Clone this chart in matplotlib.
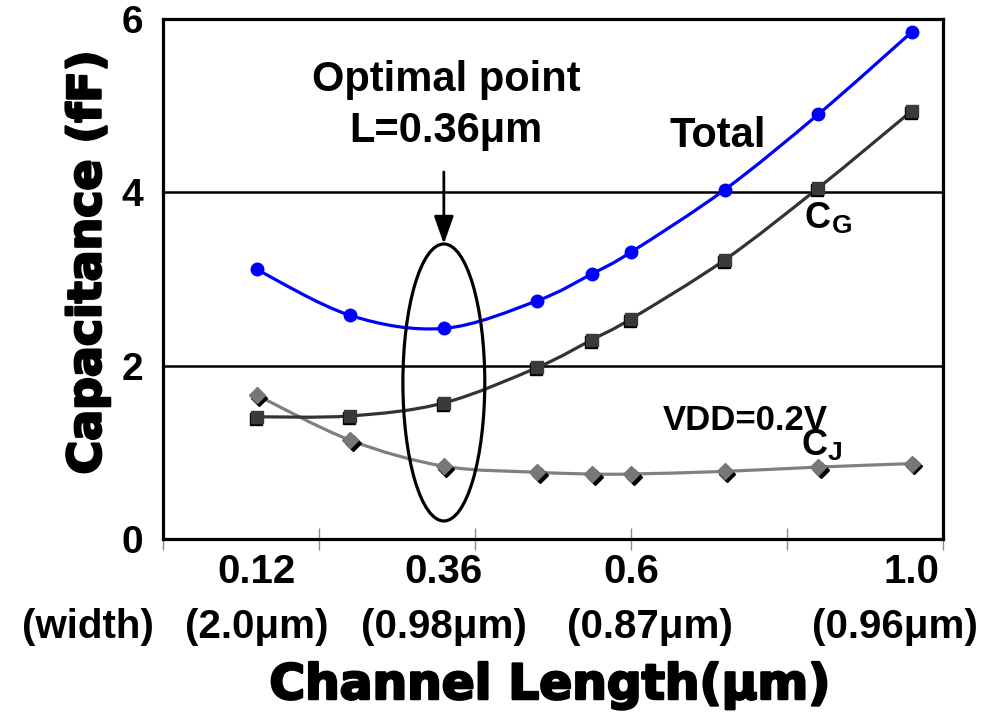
import numpy as np
import matplotlib
matplotlib.use('Agg')
import matplotlib.pyplot as plt
from matplotlib.path import Path
from matplotlib.patches import PathPatch, Ellipse
from matplotlib import patheffects, transforms

plt.rcParams['font.family'] = ['Liberation Sans', 'DejaVu Sans']
plt.rcParams['font.weight'] = 'bold'

# channel length (um) and capacitances (fF)
length = [0.12, 0.24, 0.36, 0.48, 0.55, 0.60, 0.72, 0.84, 0.96]
c_total = [3.11, 2.58, 2.43, 2.75, 3.06, 3.31, 4.03, 4.90, 5.85]
c_gate = [1.41, 1.42, 1.57, 1.98, 2.30, 2.54, 3.22, 4.05, 4.94]
c_junc = [1.66, 1.14, 0.84, 0.77, 0.75, 0.75, 0.78, 0.83, 0.87]

tick_pos = [0.12, 0.36, 0.60, 0.96]
tick_text = ['0.12', '0.36', '0.6', '1.0']
width_pos = [-0.096, 0.12, 0.36, 0.624, 0.938]
width_text = ['(width)', '(2.0μm)', '(0.98μm)', '(0.87μm)', '(0.96μm)']

opt_L = 0.36


def smooth_path(x, y):
    # catmull-rom through the points, written as cubic beziers
    p = np.column_stack([x, y]).astype(float)
    n = len(p)
    verts = [p[0]]
    codes = [Path.MOVETO]
    for i in range(n - 1):
        p0 = p[max(i - 1, 0)]
        p1, p2 = p[i], p[i + 1]
        p3 = p[min(i + 2, n - 1)]
        verts += [p1 + (p2 - p0) / 6, p2 - (p3 - p1) / 6, p2]
        codes += [Path.CURVE4] * 3
    return Path(verts, codes)


fig = plt.figure(figsize=(9.99, 7.16), dpi=100)
ax = fig.add_axes([0.1632, 0.2472, 0.7808, 0.7263])

ax.set_xlim(0, 1.0)
ax.set_ylim(0, 6)

for s in ax.spines.values():
    s.set_linewidth(2.3)
    s.set_color('k')

ax.set_yticks([0, 2, 4, 6])
ax.tick_params(axis='y', length=0, labelsize=28, pad=14)
ax.set_xticks(np.arange(0, 1.01, 0.2))
ax.set_xticklabels([])
ax.tick_params(axis='x', direction='inout', length=16, width=1, color='#8a8a8a')
ax.set_axisbelow(True)
ax.yaxis.grid(True, color='k', lw=1.8)

shadow = transforms.offset_copy(ax.transData, fig=fig, x=2.5, y=-2.5, units='dots')
shadow_sq = transforms.offset_copy(ax.transData, fig=fig, x=-1, y=-2, units='dots')

# C_J
ax.add_patch(PathPatch(smooth_path(length, c_junc), fill=False, edgecolor='#808080', lw=2.3, zorder=2))
ax.plot(length, c_junc, ls='none', marker='D', ms=8.5, color='k', mec='k', transform=shadow, zorder=3)
ax.plot(length, c_junc, ls='none', marker='D', ms=8.5, color='#777777', mec='#777777', zorder=4)

# C_G
ax.add_patch(PathPatch(smooth_path(length, c_gate), fill=False, edgecolor='#333333', lw=2.3, zorder=2))
ax.plot(length, c_gate, ls='none', marker='s', ms=8, color='k', mec='k', transform=shadow_sq, zorder=3)
ax.plot(length, c_gate, ls='none', marker='s', ms=8, color='#3a3a3a', mec='#3a3a3a', zorder=4)

# total
ax.add_patch(PathPatch(smooth_path(length, c_total), fill=False, edgecolor='#0000ff', lw=2.3, zorder=2))
ax.plot(length, c_total, ls='none', marker='o', ms=9, color='#0000ff', zorder=4)

# optimal point marker
ell_cy, ell_h = 1.806, 3.196
ax.add_patch(Ellipse((opt_L, ell_cy), 0.105, ell_h, fill=False, edgecolor='k', lw=2.3, zorder=5))
ax.annotate('', xy=(opt_L, ell_cy + ell_h / 2), xytext=(opt_L, 4.235),
            arrowprops=dict(arrowstyle='-|>,head_length=0.85,head_width=0.3', color='k',
                            lw=2, mutation_scale=20, shrinkA=0, shrinkB=0), zorder=6)
ax.text(0.363, 5.169, 'Optimal point', ha='center', va='baseline', fontsize=30)
ax.text(0.363, 4.581, 'L=0.36μm', ha='center', va='baseline', fontsize=30)

ax.text(0.7115, 4.523, 'Total', ha='center', va='baseline', fontsize=30)
ax.text(0.823, 3.588, 'C', ha='left', va='baseline', fontsize=26)
ax.text(0.857, 3.531, 'G', ha='left', va='baseline', fontsize=19)
ax.text(0.747, 1.258, 'VDD=0.2V', ha='center', va='baseline', fontsize=25)
ax.text(0.819, 0.969, 'C', ha='left', va='baseline', fontsize=26)
ax.text(0.852, 0.911, 'J', ha='left', va='baseline', fontsize=19)

# x labels: channel length and device width
for x, t in zip(tick_pos, tick_text):
    ax.text(x, -0.381, t, ha='center', va='center', fontsize=29, clip_on=False)
for x, t in zip(width_pos, width_text):
    ax.text(x, -1.015, t, ha='center', va='center', fontsize=29, clip_on=False)

heavy = [patheffects.withStroke(linewidth=1.8, foreground='k')]
fig.text(88 / 999, 1 - 262 / 716, 'Capacitance (fF)', rotation=90, ha='center', va='center',
         fontsize=33, family='DejaVu Sans', path_effects=heavy)
fig.text(550 / 999, 1 - 685 / 716, 'Channel Length(μm)', ha='center', va='center',
         fontsize=35, family='DejaVu Sans', path_effects=heavy)

fig.savefig('out.png', dpi=100)
